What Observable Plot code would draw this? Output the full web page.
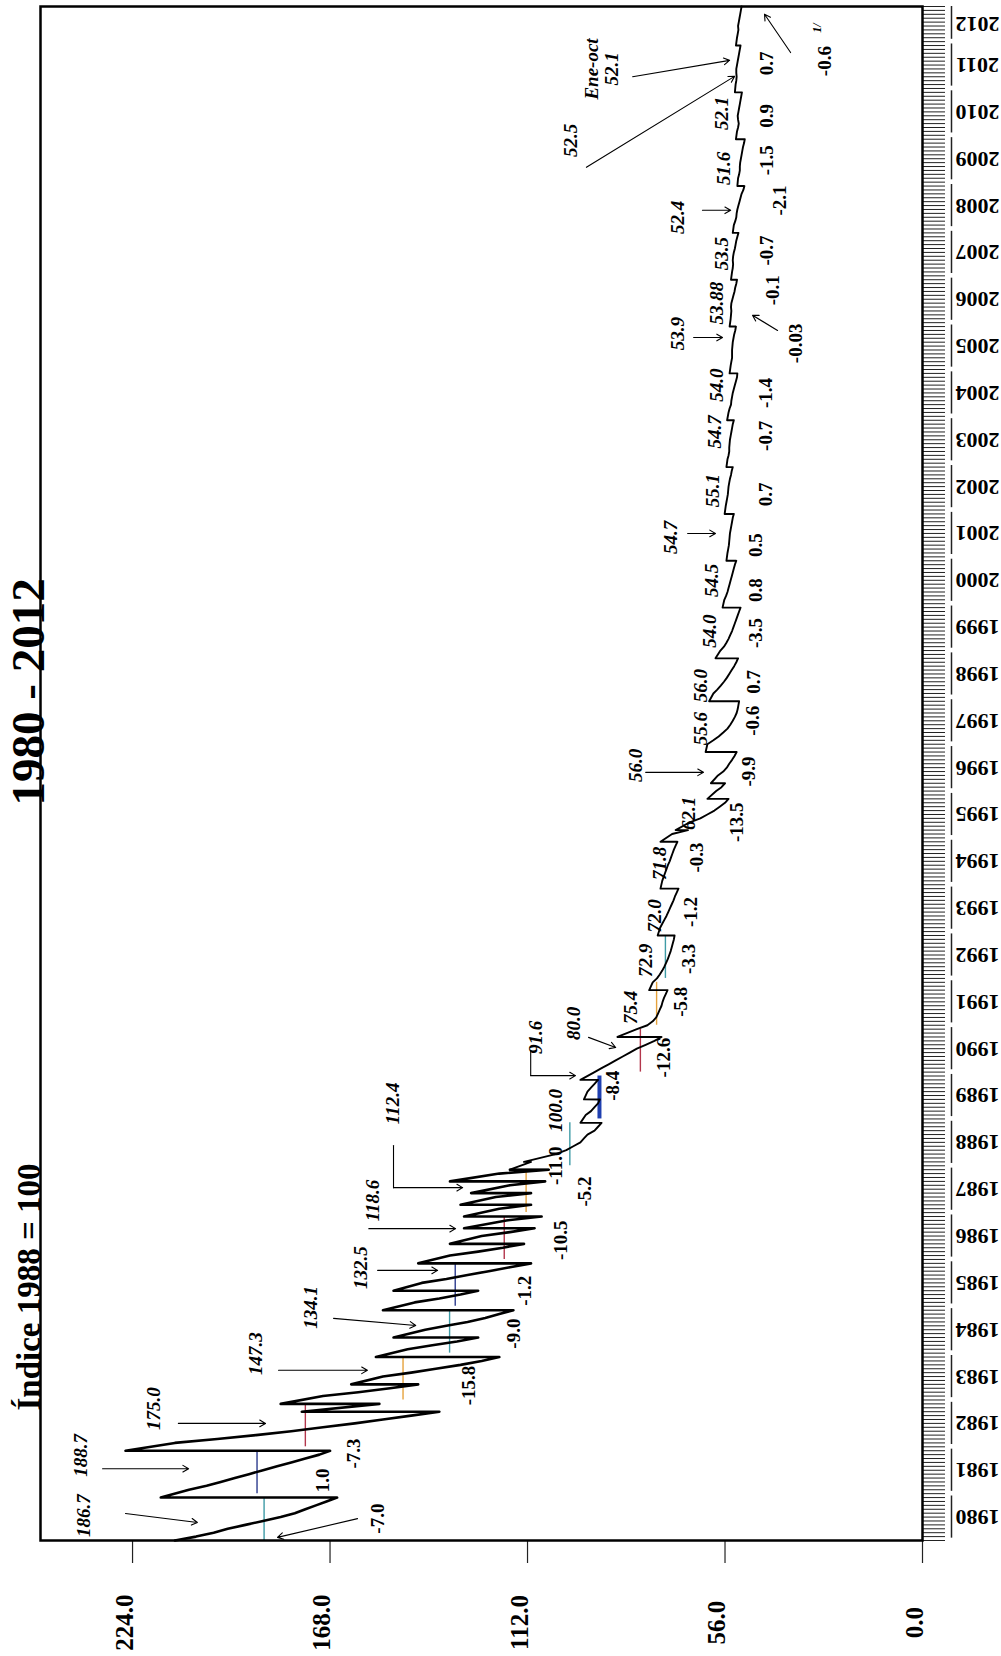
<!DOCTYPE html>
<html lang="es">
<head>
<meta charset="utf-8">
<title>Índice 1988 = 100, 1980 - 2012</title>
<script src="https://cdn.jsdelivr.net/npm/d3@7"></script>
<script src="https://cdn.jsdelivr.net/npm/@observablehq/plot@0.6"></script>
<style>
html,body{margin:0;padding:0;background:#fff;}
#chart svg{display:block;}
</style>
</head>
<body>
<div id="chart"></div>
<script>
// ---------------- data ----------------
const years = d3.range(1980, 2013);

// monthly index values, one row per year (2012: Jan–Oct)
const index1980s = [
  [212, 206, 201, 197, 192, 187, 182, 178, 175, 172, 169, 166],
  [216, 208, 203, 199, 195, 191, 187, 183, 179, 175, 171, 168],
  [226, 212, 200, 189, 179, 170, 161, 153, 145, 137, 176, 154],
  [182, 170, 160, 151, 143, 162, 153, 145, 138, 131, 125, 120],
  [155, 146, 139, 132, 126, 150, 141, 135, 129, 124, 120, 116],
  [153, 144, 137, 131, 126, 150, 142, 135, 129, 123, 117, 111],
  [143, 134, 126, 119, 113, 134, 125, 117, 110, 130, 118, 108],
  [130, 120, 111, 131, 121, 111, 128, 117, 107, 134, 120, 106],
  [117, 111, 113, 104, 101, 99, 97, 96, 95, 93, 92, 91],
  [97, 95.5, 94, 93, 92, 91.5, 96, 95, 94, 93, 92, 97]
];
const index1990s = [
  [93, 91, 89, 87, 85, 83, 81, 78.5, 76, 74, 86.5, 81],
  [78, 76.5, 75.5, 75, 74.5, 74, 73.7, 73.3, 72.8, 72.3, 77.5, 76.5],
  [75.3, 74.5, 73.8, 73.2, 72.7, 72.2, 71.8, 71.4, 71.1, 70.8, 70.5, 70.3],
  [75.1, 74.4, 73.8, 73.2, 72.6, 72.1, 71.6, 71.1, 70.6, 70.2, 69.7, 69.2],
  [74.3, 73.8, 73.4, 73, 72.6, 72.2, 71.7, 71.3, 70.9, 70.5, 70, 69.5],
  [74.3, 71, 66.5, 70, 66, 63, 61, 59, 57.5, 56, 55, 61],
  [58.5, 57, 56, 60, 58, 56.5, 55.5, 54.8, 54, 53.3, 52.7, 61.5],
  [61, 59.3, 57.8, 56.5, 55.3, 54.5, 53.8, 53.2, 52.7, 52.4, 52.2, 52],
  [60.5, 59.3, 58.2, 57.2, 56.3, 55.5, 54.8, 54.1, 53.4, 52.8, 52.3, 58.7],
  [57.3, 56.3, 55.6, 55, 54.5, 54, 53.6, 53.2, 52.8, 52.4, 52, 51.6]
];
const index2000s = [
  [56.7, 56.2, 55.7, 55.3, 55, 54.7, 54.4, 54.1, 53.8, 53.5, 53.2, 52.8],
  [55.6, 55.3, 55.1, 54.9, 54.8, 54.7, 54.6, 54.4, 54.2, 54, 53.8, 53.5],
  [56.1, 55.8, 55.6, 55.4, 55.2, 55.1, 55, 54.8, 54.6, 54.3, 54.1, 53.8],
  [55.6, 55.3, 55, 54.8, 54.8, 54.7, 54.6, 54.4, 54.2, 54, 53.8, 53.5],
  [55.4, 55, 54.7, 54.3, 54.2, 54, 53.8, 53.5, 53.2, 52.9, 52.6, 52.5],
  [54.7, 54.4, 54.2, 54, 54, 54, 53.9, 53.8, 53.6, 53.4, 53.1, 52.9],
  [54.7, 54.4, 54.3, 54.2, 54.3, 54.2, 53.9, 53.6, 53.3, 53.1, 52.8, 52.6],
  [54.3, 54, 53.8, 53.7, 53.8, 53.7, 53.5, 53.2, 53, 52.8, 52.5, 52.2],
  [53.8, 53.5, 53.1, 52.8, 52.7, 52.5, 52.2, 51.9, 51.6, 51.3, 50.8, 50.5],
  [52.5, 52.3, 52, 51.8, 51.8, 51.7, 51.5, 51.3, 51.1, 50.9, 50.6, 50.4]
];
const index2010s = [
  [52.9, 52.6, 52.3, 52.1, 52.3, 52.4, 52.2, 52, 51.8, 51.6, 51.4, 51.2],
  [53.2, 53, 52.8, 52.7, 52.8, 52.8, 52.6, 52.4, 52.2, 52, 51.8, 51.6],
  [52.9, 52.6, 52.4, 52.2, 52.3, 52.1, 51.9, 51.7, 51.5, 51.3]
];

// months in which the index jumps (drawn as a horizontal step)
const raiseMonths = ["1981-01","1982-01","1982-11","1983-01","1983-06","1984-01","1984-06",
  "1985-01","1985-06","1986-01","1986-06","1986-10","1987-01","1987-04","1987-07","1987-10",
  "1988-01","1988-03","1989-01","1989-07","1989-12","1990-11","1991-11","1993-01","1994-01",
  "1995-01","1995-04","1995-12","1996-04","1996-12","1998-01","1998-12","2000-01","2001-01",
  "2002-01","2003-01","2004-01","2005-01","2006-01","2007-01","2008-01","2009-01","2010-01",
  "2011-01","2012-01"];

// annual averages and annual changes (labels)
const annualAvgText = ["186.7","188.7","175.0","147.3","134.1","132.5","118.6","112.4","100.0",
  "91.6","80.0","75.4","72.9","72.0","71.8","62.1","56.0","55.6","56.0","54.0","54.5","54.7",
  "55.1","54.7","54.0","53.9","53.88","53.5","52.4","51.6","52.1","52.5","52.1"];
const annualChangeText = ["-7.0","1.0","-7.3","-15.8","-9.0","-1.2","-10.5","-5.2","-11.0",
  "-8.4","-12.6","-5.8","-3.3","-1.2","-0.3","-13.5","-9.9","-0.6","0.7","-3.5","0.8","0.5",
  "0.7","-0.7","-1.4","-0.03","-0.1","-0.7","-2.1","-1.5","0.9","0.7","-0.6"];
const partialYearNote = "Ene-oct";
const footnoteMark = "1/";

const valueTicks = [224, 168, 112, 56, 0];
const tickColors = ["#3e9ba6", "#2c3b8e", "#b3364c", "#e6a23c"];

// ---------------- annotation placement (value, month index) ----------------
const avgLabelAt = [[237.9,6.4],[238.7,21.8],[218,33.8],[189.1,47.9],[173.5,59.7],[159.3,69.9],
  [155.9,87.1],[150.3,112],[104,110.2],[109.7,128.9],[99,132.5],[82.8,136.6],[78.5,148.6],
  [76,160],[74.5,173.5],[66.3,186.3],[81.4,198.6],[63,208],[63,219],[60.4,233],[59.8,246],
  [71.4,257],[59.5,269],[59,284],[58.5,296],[69.5,309.2],[58.5,317],[57,329.7],[69.5,339],
  [56.5,351.5],[57,365.6],[99.8,358.7],[91,377]];
const changeLabelAt = [[154.5,5.6],[170.1,15.4],[161.3,22.3],[128.7,39.7],[116,53],[112.6,64],
  [102.6,76.9],[95.8,89.4],[104,96],[87.8,116.5],[73.4,123.7],[68.6,138],[66.1,149],
  [65.8,161],[64,175],[52.5,184],[49.3,197],[48.2,210],[47.9,220],[47.3,232.5],[47.3,243.5],
  [47.3,255],[44.5,268],[44.5,283],[44.5,294],[36,306.7],[42.5,320.3],[44,330.5],[40.3,343.3],
  [44,353.6],[44,365],[44,378.4],[27.8,379]];
const footnoteAt = [29.8, 387.5];
const arrowsAt = [
  [226,6.9,205.6,4.6],[232.5,18.4,208.1,18.4],[211,30,186.3,30],[182.6,43.6,157.4,43.6],
  [167,56.9,143.7,55.1],[154.5,69.2,137.5,69.2],[157,79.9,132.4,79.9],[150,90.4,130.4,90.4],
  [111.1,119.1,98.4,119.1],[94.7,128.9,87,126.3],[78.5,196.8,62.1,196.8],[66.6,258,58.7,258],
  [64.9,308.2,56.7,308.2],[62.4,340.8,54.4,340.8],[95.3,351.8,53.3,375.1],[82.2,375,54.7,379.2],
  [160.2,5.6,182.9,0.8],[41.1,310,48.2,313.9],[37.4,381.2,44.8,391]
];
const elbowsAt = [
  {id: "a", v: 150, m: 101.2}, {id: "a", v: 150, m: 90.4},
  {id: "b", v: 111.1, m: 125.5}, {id: "b", v: 111.1, m: 119.1}
];

// ---------------- derived tables ----------------
const toIndex = s => (+s.slice(0, 4) - 1980) * 12 + (+s.slice(5, 7) - 1);
const raiseIdx = new Set(raiseMonths.map(toIndex));
const values = [...index1980s, ...index1990s, ...index2000s, ...index2010s].flat();
const lastM = values.length - 1;
const series = values.map((v, i) => ({i, v, pos: raiseIdx.has(i) ? i - 1 + 0.001 : i}));
const early = series.filter(d => d.i <= 96);
const late = series.filter(d => d.i >= 95);

const yearInfo = years.map((yr, k) => ({yr, start: k * 12, end: Math.min(k * 12 + 12, lastM)}));
const avgTicks = yearInfo.slice(0, 13).map((d, k) => ({
  yr: d.yr, v: +annualAvgText[k], m1: d.start, m2: d.start + 11, c: tickColors[k % 4]
}));
const avgLabels = annualAvgText.map((t, k) => ({
  t: k === annualAvgText.length - 1 ? partialYearNote + "\n" + t : t,
  v: avgLabelAt[k][0], m: avgLabelAt[k][1]
}));
const changeLabels = annualChangeText.map((t, k) => ({t, v: changeLabelAt[k][0], m: changeLabelAt[k][1]}));
const arrows = arrowsAt.map(([x1, y1, x2, y2]) => ({x1, y1, x2, y2}));

const serif = "'Liberation Serif', 'Times New Roman', serif";

const chart = Plot.plot({
  width: 1001,
  height: 1656,
  marginLeft: 40,
  marginRight: 79,
  marginTop: 6,
  marginBottom: 116,
  x: {domain: [250.1, 0], label: null},
  y: {domain: [0, lastM], label: null},
  style: {fontFamily: serif, background: "white", color: "black", overflow: "visible"},
  marks: [
    // month comb and value ticks
    Plot.axisY({anchor: "right", ticks: d3.range(0, lastM + 1), tickSize: 22, tickFormat: () => "", stroke: "#222", strokeWidth: 1}),
    Plot.axisX({anchor: "bottom", ticks: valueTicks, tickSize: 23, tickFormat: () => "", stroke: "#222", strokeWidth: 1.2}),
    Plot.text(valueTicks, {x: d => d, frameAnchor: "bottom", dy: 82, rotate: -90, text: d => d.toFixed(1), fontSize: 25, fontWeight: "bold"}),
    // year brackets and labels
    Plot.ruleX(yearInfo, {x: () => 0, dx: 29, y1: d => d.start + 0.6, y2: d => Math.min(d.start + 11.4, lastM), stroke: "#222", strokeWidth: 1.5}),
    Plot.text(yearInfo, {x: () => 0, dx: 55, y: d => (d.start + d.end) / 2, text: d => String(d.yr), rotate: 180, fontSize: 22, fontWeight: "bold"}),
    // annual average markers
    Plot.ruleX(avgTicks.filter(d => d.yr !== 1989), {x: "v", y1: "m1", y2: "m2", stroke: "c", strokeWidth: 1.4}),
    Plot.ruleX(avgTicks.filter(d => d.yr === 1989), {x: "v", y1: "m1", y2: "m2", stroke: "#1f3fb0", strokeWidth: 4}),
    // the index
    Plot.line(early, {x: "v", y: "pos", stroke: "black", strokeWidth: 2.6}),
    Plot.line(late, {x: "v", y: "pos", stroke: "black", strokeWidth: 1.9}),
    // annotations
    Plot.line(elbowsAt, {x: "v", y: "m", z: "id", stroke: "black", strokeWidth: 1.1}),
    Plot.arrow(arrows, {x1: "x1", y1: "y1", x2: "x2", y2: "y2", stroke: "black", strokeWidth: 1.1, headLength: 9}),
    Plot.text(avgLabels, {x: "v", y: "m", text: "t", rotate: -90, fontSize: 19, fontWeight: "bold", fontStyle: "italic", lineHeight: 1.05}),
    Plot.text(changeLabels, {x: "v", y: "m", text: "t", rotate: -90, fontSize: 19, fontWeight: "bold"}),
    Plot.text([footnoteMark], {x: () => footnoteAt[0], y: () => footnoteAt[1], rotate: -90, fontSize: 12, fontWeight: "bold", fontStyle: "italic"}),
    // titles
    Plot.text(["1980 - 2012"], {frameAnchor: "left", dx: -12, dy: 32, rotate: -90, fontSize: 47, fontWeight: "bold"}),
    Plot.text(["Índice 1988 = 100"], {frameAnchor: "left", dx: -11, dy: 637, rotate: -90, fontSize: 33, fontWeight: "bold"}),
    Plot.frame({stroke: "black", strokeWidth: 2.5})
  ]
});
document.getElementById("chart").append(chart);
</script>
</body>
</html>
